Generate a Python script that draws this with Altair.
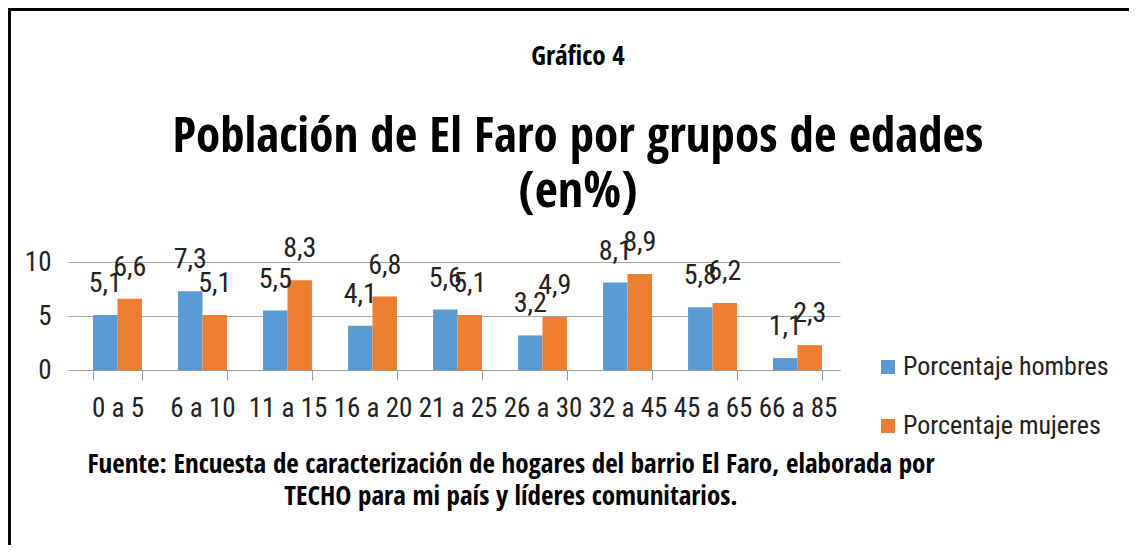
import altair as alt
import pandas as pd

grupos = ["0 a 5", "6 a 10", "11 a 15", "16 a 20", "21 a 25", "26 a 30", "32 a 45", "45 a 65", "66 a 85"]
hombres = [5.1, 7.3, 5.5, 4.1, 5.6, 3.2, 8.1, 5.8, 1.1]
mujeres = [6.6, 5.1, 8.3, 6.8, 5.1, 4.9, 8.9, 6.2, 2.3]
series = ["Porcentaje hombres", "Porcentaje mujeres"]
colores = ["#5B9BD5", "#ED7D31"]
y_ticks = [0, 5, 10]

titulo_pre = "Gráfico 4"
titulo = ["Población de El Faro por grupos de edades", "(en%)"]
fuente = ["Fuente: Encuesta de caracterización de hogares del barrio El Faro, elaborada  por",
          "TECHO para mi país y líderes comunitarios."]

FONT = "'Roboto Condensed', 'Liberation Sans Narrow', sans-serif"
BFONT = "'Open Sans Condensed', 'Roboto Condensed', sans-serif"

rows = []
for g, h, m in zip(grupos, hombres, mujeres):
    rows.append({"grupo": g, "serie": series[0], "valor": h, "etq": f"{h:.1f}".replace(".", ",")})
    rows.append({"grupo": g, "serie": series[1], "valor": m, "etq": f"{m:.1f}".replace(".", ",")})
df = pd.DataFrame(rows)

x_enc = alt.X("grupo:N", sort=grupos, title=None,
              scale=alt.Scale(paddingInner=0.425, paddingOuter=0.2125),
              axis=alt.Axis(labelAngle=0, labelFontSize=27, labelFont=FONT, labelColor="#222222",
                            labelPadding=15, tickBand="extent", tickSize=10, tickColor="#9a9a9a",
                            domainColor="#9a9a9a", grid=False, labelBaseline="top"))
y_enc = alt.Y("valor:Q", title=None,
              scale=alt.Scale(domain=[0, 10], nice=False),
              axis=alt.Axis(values=y_ticks, labelFontSize=27, labelFont=FONT, labelColor="#222222",
                            labelPadding=17, tickSize=7, tickColor="#a6a6a6", domain=False,
                            gridColor="#a6a6a6", gridWidth=1))
xo = alt.XOffset("serie:N", sort=series, scale=alt.Scale(paddingInner=0, paddingOuter=0))
color = alt.Color("serie:N", sort=series, scale=alt.Scale(domain=series, range=colores),
                  legend=alt.Legend(title=None, orient="none", legendX=800, legendY=92,
                                    symbolType="square", symbolSize=196, symbolStrokeWidth=0,
                                    labelFontSize=26, labelFont=FONT, labelColor="#222222",
                                    labelLimit=400, rowPadding=33, labelOffset=2, padding=0))

base = alt.Chart(df)
bars = base.mark_bar().encode(x=x_enc, y=y_enc, xOffset=xo, color=color)
labels = base.mark_text(fontSize=28, font=FONT, baseline="alphabetic", dy=-23, color="#222222").encode(
    x=alt.X("grupo:N", sort=grupos), y="valor:Q", xOffset=xo, text="etq:N")

one = pd.DataFrame({"k": [0]})
textbase = alt.Chart(one)
t0 = textbase.mark_text(text=titulo_pre, fontSize=27, fontWeight="bold", font=BFONT,
                        baseline="alphabetic", align="center").encode(x=alt.value(503), y=alt.value(-197))
t1 = textbase.mark_text(text=titulo[0], fontSize=49, fontWeight="bold", font=BFONT,
                        baseline="alphabetic", align="center").encode(x=alt.value(503), y=alt.value(-110))
t2 = textbase.mark_text(text=titulo[1], fontSize=50, fontWeight="bold", font=BFONT,
                        baseline="alphabetic", align="center").encode(x=alt.value(503), y=alt.value(-55))
f1 = textbase.mark_text(text=fuente[0], fontSize=27, fontWeight="bold", font=BFONT,
                        baseline="alphabetic", align="center").encode(x=alt.value(436), y=alt.value(211))
f2 = textbase.mark_text(text=fuente[1], fontSize=27, fontWeight="bold", font=BFONT,
                        baseline="alphabetic", align="center").encode(x=alt.value(436), y=alt.value(243))
b_top = textbase.mark_rule(color="black", strokeWidth=3).encode(
    x=alt.value(-67), x2=alt.value(1100), y=alt.value(-252.5))
b_left = textbase.mark_rule(color="black", strokeWidth=3).encode(
    x=alt.value(-65.5), y=alt.value(-254), y2=alt.value(300))

chart = alt.layer(bars, labels, t0, t1, t2, f1, f2, b_top, b_left).properties(
    width=765, height=108,
    autosize=alt.AutoSizeParams(type="none"),
    padding={"left": 67, "top": 254, "right": 289, "bottom": 175},
    background="white",
).configure_view(stroke=None)

chart.save("out.html", embed_options={"renderer": "svg", "actions": False})
